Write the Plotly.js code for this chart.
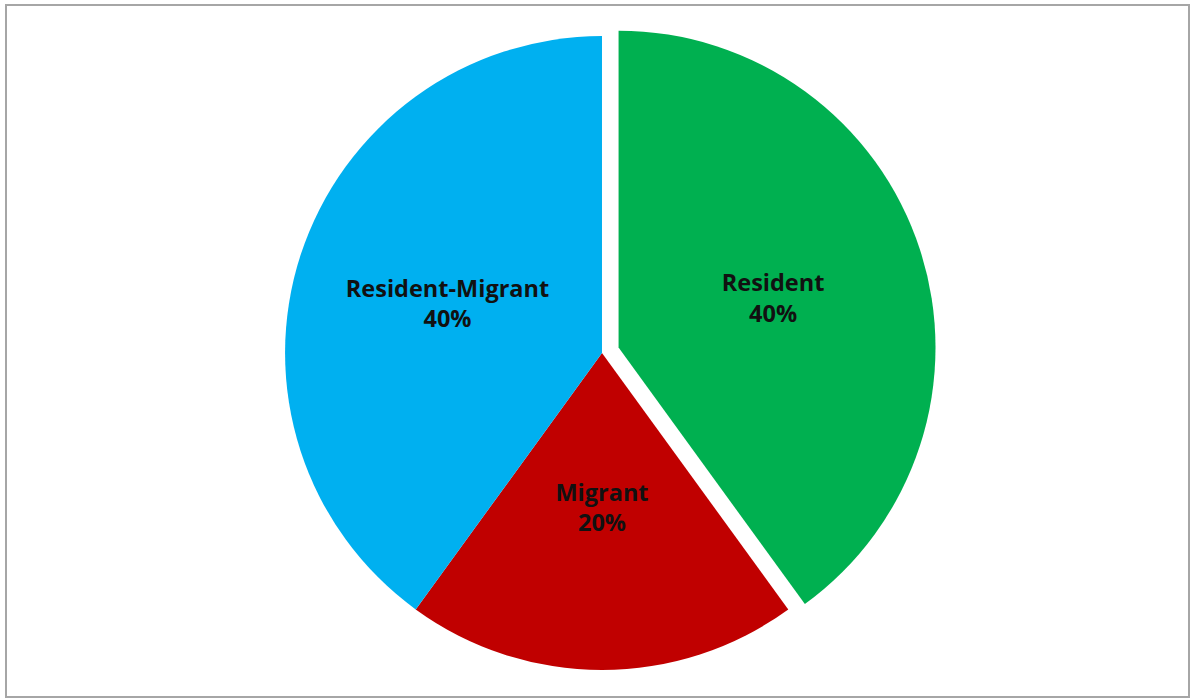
<!DOCTYPE html>
<html>
<head>
<meta charset="utf-8">
<script src="https://cdn.plot.ly/plotly-3.0.1.min.js"></script>
<style>html,body{margin:0;padding:0;background:#fff;}#chart{width:1198px;height:700px;}</style>
</head>
<body>
<div id="chart"></div>
<script>
const categories = ["Resident", "Migrant", "Resident-Migrant"];
const shares = [40, 20, 40];
const sliceColors = ["#00B050", "#C00000", "#00B0F0"];
const pulls = [0.055, 0, 0];

const baseTpl = "<b>%{label}</b><br><b>%{percent:.0%}</b>";
const templates = [baseTpl, baseTpl + "<br> <br> <br> ", baseTpl];

const trace = {
  type: "pie",
  labels: categories,
  values: shares,
  sort: false,
  direction: "clockwise",
  rotation: 0,
  pull: pulls,
  marker: {colors: sliceColors, line: {width: 0}},
  textinfo: "label+percent",
  texttemplate: templates,
  textposition: "inside",
  insidetextorientation: "horizontal",
  textfont: {family: "Open Sans, Liberation Sans, sans-serif", size: 23.5, color: "#111"},
  hoverinfo: "label+percent",
  showlegend: false,
  domain: {x: [0.2234, 0.7816], y: [0.018, 0.9734]}
};

const layout = {
  width: 1198, height: 700,
  margin: {l: 0, r: 0, t: 0, b: 0},
  paper_bgcolor: "#ffffff",
  showlegend: false,
  shapes: [{
    type: "rect", xref: "paper", yref: "paper",
    x0: 6/1198, x1: 1189/1198, y0: 1 - 697/700, y1: 1 - 5/700,
    line: {color: "#a6a6a6", width: 2}, fillcolor: "rgba(0,0,0,0)", layer: "below"
  }]
};

Plotly.newPlot("chart", [trace], layout, {displayModeBar: false, staticPlot: true});
</script>
</body>
</html>
